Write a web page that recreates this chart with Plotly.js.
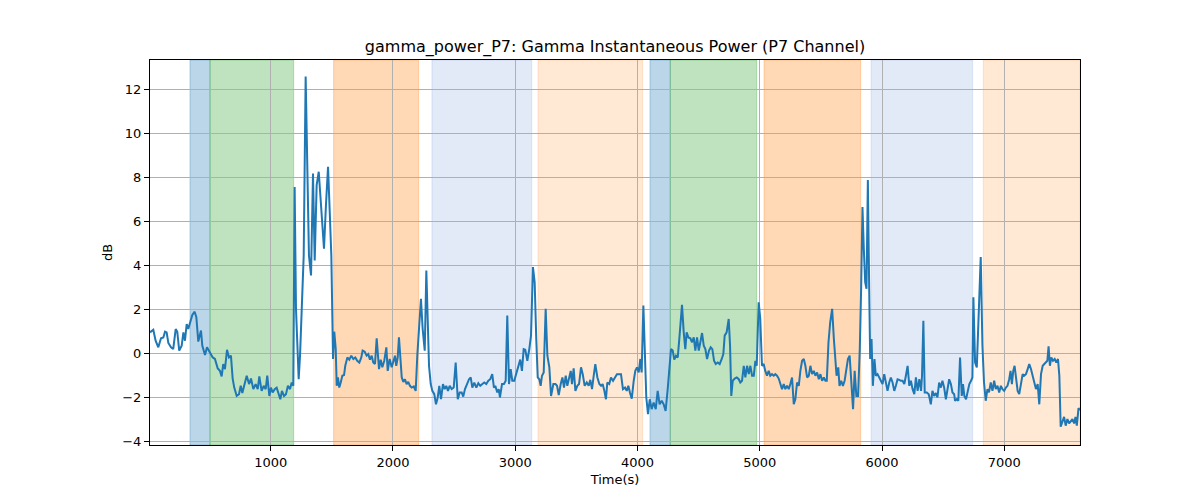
<!DOCTYPE html>
<html>
<head>
<meta charset="utf-8">
<script src="https://cdn.plot.ly/plotly-3.0.1.min.js"></script>
<style>html,body{margin:0;padding:0;background:#fff;}#chart{width:1200px;height:500px;}</style>
</head>
<body>
<div id="chart"></div>
<script>
const timeSec = [13,40,59,81,103,122,136,149,163,185,203,223,236,252,272,286,299,313,326,340,359,378,392,408,430,441,463,479,504,526,544,567,585,599,612,626,643,659,675,689,702,722,741,755,768,784,804,823,839,858,877,894,907,926,943,
959,972,989,1002,1016,1033,1049,1062,1079,1092,1109,1125,1141,1158,1172,1185,1196,1207,1218,1229,1240,1256,1270,1286,1299,1313,1330,1346,1360,1376,1393,1406,1422,1436,1452,1469,1483,1496,1510,1520,1532,1540,1550,1561,1573,1586,1600,1610,1627,1643,1659,1676,1692,1708,1725,1741,1752,1769,1785,1798,1812,1826,1839,1853,1867,
1886,1900,1913,1929,1946,1957,1973,1990,2006,2017,2027,2039,2049,2060,2072,2085,2098,2112,2125,2139,2153,2170,2186,2199,2215,2229,2243,2260,2273,2284,2295,2309,2322,2338,2352,2366,2379,2393,2409,2423,2436,2450,2464,2480,2497,2513,2530,2546,2562,2575,2589,2606,2622,2636,2649,2665,2682,2698,2714,2731,2747,2763,2780,2796,2812,
2826,2837,2853,2865,2875,2892,2908,2922,2935,2949,2963,2976,2992,3012,3028,3041,3055,3069,3082,3099,3115,3129,3145,3159,3172,3184,3197,3208,3219,3233,3249,3263,3279,3293,3312,3329,3342,3356,3372,3386,3399,3413,3426,3440,3454,3464,3478,3492,3508,3522,3538,3552,3568,3585,3601,3614,3628,3642,3655,3672,3688,3702,3715,3729,3742,3753,
3769,3783,3800,3816,3832,3849,3865,3881,3898,3912,3925,3939,3953,3969,3982,3996,4010,4023,4034,4048,4061,4072,4086,4100,4116,4132,4149,4165,4181,4198,4214,4230,4247,4260,4274,4288,4301,4315,4329,4342,4353,4364,4378,4391,4402,4416,4432,4446,4460,4473,4487,4501,4514,4528,4542,4555,4569,4585,4599,4612,4626,4640,4656,4672,4689,
4702,4713,4729,4746,4757,4767,4779,4795,4812,4828,4841,4855,4869,4882,4896,4910,4923,4937,4951,4964,4975,4991,5004,5018,5032,5045,5059,5073,5086,5100,5114,5127,5141,5155,5168,5182,5196,5209,5223,5237,5250,5264,5278,5291,5305,5319,5332,5346,5360,5373,5387,5401,5414,5428,5442,5455,5469,5483,5496,5510,5524,5537,5548,5562,5576,5592,5606,5619,
5628,5642,5652,5666,5680,5694,5708,5721,5735,5749,5763,5776,5790,5804,5818,5829,5840,5851,5862,5873,5884,5895,5903,5914,5925,5938,5949,5963,5976,5990,6004,6018,6031,6045,6059,6072,6086,6100,6113,6127,6141,6154,6168,6182,6195,6209,6223,6236,6250,6264,6277,6291,6305,6319,6327,6338,6349,6366,6382,6399,6412,6426,6440,6453,6467,6481,6494,6508,6522,6535,6549,6563,6576,6590,
6597,6611,6624,6638,6652,6662,6673,6687,6701,6714,6728,6739,6747,6761,6775,6791,6807,6821,6834,6848,6862,6875,6889,6903,6917,6930,6944,6958,6972,6985,6999,7013,7026,7040,7051,7062,7073,7084,7095,7109,7122,7136,7150,7163,7177,7191,7204,7218,7232,7245,7259,7273,7286,7300,7314,7327,7341,7352,7362,7373,7384,7398,7412,7425,7439,7450,7461,7475,7489,7502,7516,7530,7543,7557,7571,7582,7593,7607,7619];

const gammaDb = [0.94,1.06,0.56,0.26,0.67,0.71,0.97,0.94,0.46,0.26,0.18,1.09,0.97,0.11,0.33,0.94,0.56,1.32,1.09,1.40,1.73,1.88,1.63,0.52,1.02,0.33,-0.09,0.26,0.03,-0.20,-0.27,-0.70,-0.81,-1.06,-0.50,-0.73,0.15,-0.20,-0.12,-1.16,-1.57,-1.95,-1.87,-1.49,-1.82,-1.49,-1.03,-1.41,-1.16,-1.64,-1.41,-1.64,-1.06,-1.72,-1.49,
-1.64,-1.03,-1.95,-1.57,-1.79,-1.64,-1.57,-1.79,-2.10,-1.72,-1.95,-1.87,-1.49,-1.64,-1.34,-1.49,7.55,2.01,0.03,-1.19,-0.12,2.01,4.44,12.57,8.54,4.44,3.53,8.16,4.21,7.63,8.24,7.17,5.96,4.74,6.72,8.47,6.41,4.44,-0.27,0.97,0.18,-1.49,-1.11,-1.57,-1.34,-1.03,-1.00,-0.58,-0.20,-0.30,-0.12,-0.27,-0.20,-0.35,-0.43,-0.20,0.11,0.06,-0.12,-0.05,-0.30,-0.12,-0.43,-0.50,0.67,
-0.73,-0.30,-0.65,-0.35,0.26,-0.81,-0.27,-0.65,-0.35,-0.12,-0.58,-0.20,0.71,-0.43,-1.11,-1.31,-1.19,-1.41,-1.31,-1.49,-1.57,-1.52,-1.72,-0.12,1.40,2.46,1.09,0.11,3.75,1.40,-0.58,-1.41,-1.72,-1.87,-2.33,-2.02,-1.49,-2.10,-1.41,-1.64,-1.49,-1.72,-1.49,-1.64,-1.57,-0.43,-2.10,-1.79,-1.79,-1.98,-1.64,-1.41,-1.19,-1.11,-1.57,-1.34,-1.57,-1.37,-1.49,-1.41,-1.34,-1.41,-1.26,-1.19,-0.96,
-1.57,-1.49,-1.79,-1.64,-2.02,-1.41,-1.41,-1.26,1.70,-1.41,-0.73,-1.26,-1.26,-0.88,-0.58,-0.30,-0.81,0.18,0.15,-0.35,0.18,0.79,3.91,3.22,0.64,-1.11,-1.19,-1.49,-1.03,-0.88,2.01,-0.12,-0.65,-1.95,-1.41,-1.41,-1.49,-1.91,-1.41,-1.11,-1.57,-1.03,-1.49,-1.19,-0.81,-1.41,-0.70,-1.72,-1.49,-1.41,-0.65,-0.96,-1.49,-1.34,-1.49,-1.22,-1.64,-1.03,-0.50,-1.11,-1.41,-1.49,-1.41,-1.72,-2.10,-1.34,
-1.41,-1.11,-1.26,-1.11,-0.96,-0.96,-0.96,-1.64,-1.57,-1.72,-1.49,-1.82,-2.07,-1.26,-0.81,-0.65,-0.88,-0.27,-0.88,2.16,-0.43,-2.02,-2.78,-2.10,-2.55,-2.25,-2.55,-1.72,-2.33,-2.17,-2.33,-2.63,-1.64,-0.58,0.18,0.11,-0.30,-0.12,-0.20,0.64,1.40,2.19,0.94,0.18,0.94,0.71,0.67,0.49,0.71,0.11,0.71,0.11,0.49,0.91,0.33,0.18,-0.27,0.11,0.26,0.18,-0.35,-0.50,-0.43,-0.50,-0.27,
-0.05,0.79,0.94,1.55,0.33,-1.95,-1.26,-1.16,-1.11,-1.19,-1.34,-1.26,-0.58,-1.11,-0.58,-0.96,-0.58,-1.03,-1.03,-0.35,-0.58,2.31,1.55,-0.58,-0.50,-0.81,-1.03,-0.81,-1.03,-0.96,-1.03,-0.96,-1.03,-1.16,-1.41,-1.64,-1.41,-1.64,-1.49,-1.64,-1.41,-1.11,-2.33,-2.10,-1.34,-1.49,-0.81,-0.35,-0.27,-0.58,-1.11,-1.03,-0.58,-0.96,-0.81,-1.03,-0.88,-1.19,-0.96,-1.26,-1.11,-1.26,-1.26,0.49,1.40,2.01,0.64,-0.65,
-1.03,-0.65,-1.49,-1.26,-1.49,-1.26,-0.81,-0.27,-0.12,-1.64,-2.55,-0.81,-1.95,-1.95,0.18,2.92,6.64,4.74,3.22,2.92,7.86,2.92,-0.27,0.64,-1.49,-0.27,-1.03,-0.96,-1.11,-1.26,-1.41,-0.96,-1.34,-1.72,-1.34,-1.11,-1.34,-1.72,-1.49,-1.19,-1.22,-1.26,-1.26,-1.41,-1.03,-0.58,-1.49,-1.26,-1.64,-1.87,-1.11,-1.72,-1.19,-1.72,-1.03,1.47,-1.79,-1.79,-1.87,-2.33,-1.72,-1.95,-1.82,-2.02,-1.34,-1.57,-1.26,-1.57,-2.10,-1.57,-1.19,-1.41,-1.79,-1.87,
-2.17,-2.10,-2.17,-0.20,-1.95,-1.41,-1.95,-2.10,-1.64,-1.41,-1.26,-1.11,2.54,-0.43,-0.65,2.23,4.36,0.33,-1.34,-2.17,-1.64,-1.79,-1.34,-1.72,-1.26,-1.64,-1.49,-1.79,-1.49,-1.64,-1.72,-1.57,-1.49,-1.19,-0.81,-1.41,-0.81,-0.58,-1.11,-1.72,-1.87,-1.41,-0.96,-1.03,-0.96,-0.73,-0.50,-0.73,-1.03,-1.26,-1.64,-1.41,-2.33,-0.96,-0.58,-0.50,-0.43,-0.35,0.30,-0.58,-0.20,-0.35,-0.27,-0.43,-0.27,-1.03,-3.35,-3.10,-2.90,-3.30,-3.00,-3.20,-3.10,-3.00,-3.20,-2.90,-3.30,-2.50,-2.60];

// shaded intervals (seconds) and their kind
const spanStart = [340, 504, 1515, 2319, 3186, 4102, 4268, 5035, 5910, 6828];
const spanEnd   = [504, 1188, 2210, 3135, 4042, 4268, 4975, 5825, 6741, 7619];
const spanKind  = ['blue','green','orange','lightblue','lightorange','blue','green','orange','lightblue','lightorange'];

const kindFill = {
  blue: 'rgba(31,119,180,0.3)',
  green: 'rgba(44,160,44,0.3)',
  orange: 'rgba(255,127,14,0.3)',
  lightblue: 'rgba(100,140,210,0.18)',
  lightorange: 'rgba(255,127,14,0.18)'
};

const shapes = spanStart.map((s, i) => ({
  type: 'rect', xref: 'x', yref: 'paper', x0: s, x1: spanEnd[i], y0: 0, y1: 1,
  fillcolor: kindFill[spanKind[i]], line: {width: 1, color: kindFill[spanKind[i]]}, layer: 'below'
}));

const font = 'DejaVu Sans, sans-serif';
const trace = {
  x: timeSec, y: gammaDb, type: 'scatter', mode: 'lines',
  line: {color: '#1f77b4', width: 2}, hoverinfo: 'skip'
};

const axisCommon = {
  showline: true, mirror: true, linecolor: '#000', linewidth: 1,
  ticks: 'outside', ticklen: 5, tickwidth: 1, tickcolor: '#000',
  showgrid: true, gridcolor: '#b0b0b0', gridwidth: 1, zeroline: false,
  tickfont: {family: font, size: 13, color: '#000'}
};

const layout = {
  width: 1200, height: 500,
  paper_bgcolor: '#fff', plot_bgcolor: '#fff',
  margin: {l: 150, r: 120, t: 60, b: 55},
  showlegend: false,
  title: {text: 'gamma_power_P7: Gamma Instantaneous Power (P7 Channel)', x: 0.5, xref: 'paper', xanchor: 'center',
          y: 0.908, yref: 'container', yanchor: 'middle', font: {family: font, size: 16, color: '#000'}},
  xaxis: Object.assign({}, axisCommon, {range: [13, 7619], tickvals: [1000,2000,3000,4000,5000,6000,7000],
          title: {text: 'Time(s)', font: {family: font, size: 13, color: '#000'}, standoff: 6}}),
  yaxis: Object.assign({}, axisCommon, {range: [-4.18, 13.32], tickvals: [-4,-2,0,2,4,6,8,10,12],
          title: {text: 'dB', font: {family: font, size: 13, color: '#000'}, standoff: 6}}),
  shapes: shapes
};

Plotly.newPlot('chart', [trace], layout, {displayModeBar: false, staticPlot: true});
</script>
</body>
</html>
